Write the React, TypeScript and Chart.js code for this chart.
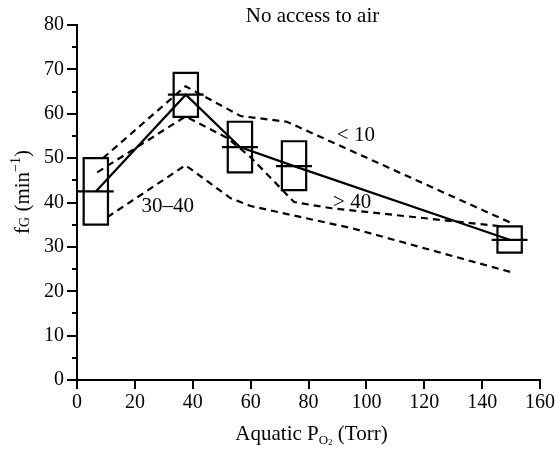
import React, { useEffect, useRef } from 'react';
import { Chart, registerables } from 'chart.js';

Chart.register(...registerables);

const FONT = '"Liberation Serif", "Times New Roman", serif';

// Axis ticks
const xTickValues = [0, 20, 40, 60, 80, 100, 120, 140, 160];
const yTickValues = [0, 10, 20, 30, 40, 50, 60, 70, 80];

// Boxes (aquatic PO2 centre, low, high, median fG)
const boxPO2 = [6.5, 37.6, 56.3, 75, 149.5];
const boxLow = [35, 59.3, 46.8, 42.8, 28.7];
const boxHigh = [50, 69.2, 58.2, 53.8, 34.6];
const boxMid = [42.5, 64.3, 52.5, 48.2, 31.6];
const BOX_HALF = 4.2;
const MID_HALF = 6.2;

// Dashed groups
const lt10PO2 = [9, 37.5, 56.5, 72.5, 150];
const lt10Fg = [50, 66.2, 59.5, 58.2, 35.4];
const gt40PO2 = [7, 37.5, 52, 60, 71, 75, 88, 147];
const gt40Fg = [46.8, 59.4, 54.5, 50.2, 42.8, 40.1, 38.7, 34.6];
const r3040PO2 = [10.5, 37.5, 53, 60, 95, 150];
const r3040Fg = [36.7, 48.4, 41, 39.2, 34.2, 24.3];

const seriesLabels = [
  { text: '< 10', x: 89.8, y: 55, align: 'left' },
  { text: '> 40', x: 88.5, y: 40, align: 'left' },
  { text: '30–40', x: 31.4, y: 39, align: 'center' },
];

const TITLE = 'No access to air';

type Part = { text: string; size: number; dy: number };

function drawParts(ctx: CanvasRenderingContext2D, parts: Part[], cx: number, baseY: number) {
  let total = 0;
  const widths = parts.map((p) => {
    ctx.font = `${p.size}px ${FONT}`;
    const w = ctx.measureText(p.text).width;
    total += w;
    return w;
  });
  let xPos = cx - total / 2;
  ctx.textAlign = 'left';
  ctx.textBaseline = 'alphabetic';
  parts.forEach((p, i) => {
    ctx.font = `${p.size}px ${FONT}`;
    ctx.fillText(p.text, xPos, baseY + p.dy);
    xPos += widths[i];
  });
}

const decorPlugin = {
  id: 'decor',
  afterDraw(chart: any) {
    const { ctx, chartArea } = chart;
    const x = chart.scales.x;
    const y = chart.scales.y;
    ctx.save();
    ctx.fillStyle = '#000';
    ctx.strokeStyle = '#000';
    // y tick marks (major + minor)
    ctx.lineWidth = 2;
    for (let v = 0; v <= 80; v += 5) {
      const py = Math.round(y.getPixelForValue(v));
      const len = v % 10 === 0 ? 10 : 5;
      ctx.beginPath();
      ctx.moveTo(chartArea.left - len, py);
      ctx.lineTo(chartArea.left, py);
      ctx.stroke();
    }
    // title
    ctx.font = `21px ${FONT}`;
    ctx.textAlign = 'center';
    ctx.textBaseline = 'alphabetic';
    ctx.fillText(TITLE, (chartArea.left + chartArea.right) / 2 + 4, 22);
    // series labels
    ctx.font = `21px ${FONT}`;
    ctx.textBaseline = 'middle';
    seriesLabels.forEach((l) => {
      ctx.textAlign = l.align as CanvasTextAlign;
      ctx.fillText(l.text, x.getPixelForValue(l.x), y.getPixelForValue(l.y));
    });
    // x axis title
    drawParts(
      ctx,
      [
        { text: 'Aquatic P', size: 21, dy: 0 },
        { text: 'O', size: 13, dy: 4 },
        { text: '2', size: 9, dy: 5 },
        { text: ' (Torr)', size: 21, dy: 0 },
      ],
      (chartArea.left + chartArea.right) / 2 + 3,
      440
    );
    // y axis title (rotated)
    ctx.translate(29, 192);
    ctx.rotate(-Math.PI / 2);
    drawParts(
      ctx,
      [
        { text: 'f', size: 21, dy: 0 },
        { text: 'G', size: 14, dy: 0 },
        { text: ' (min', size: 21, dy: 0 },
        { text: '−1', size: 14, dy: -9 },
        { text: ')', size: 21, dy: 0 },
      ],
      0,
      0
    );
    ctx.restore();
  },
};

export default function App() {
  const canvasRef = useRef<HTMLCanvasElement | null>(null);

  useEffect(() => {
    const canvas = canvasRef.current;
    if (!canvas) return;
    const base = {
      borderColor: '#000',
      backgroundColor: '#000',
      borderWidth: 2.2,
      showLine: true,
      pointRadius: 0,
      pointHoverRadius: 0,
      fill: false,
      tension: 0,
    };
    const datasets: any[] = [];
    boxPO2.forEach((c, i) => {
      datasets.push({
        ...base,
        borderJoinStyle: 'miter',
        borderCapStyle: 'square',
        data: [
          { x: c - BOX_HALF, y: boxLow[i] },
          { x: c + BOX_HALF, y: boxLow[i] },
          { x: c + BOX_HALF, y: boxHigh[i] },
          { x: c - BOX_HALF, y: boxHigh[i] },
          { x: c - BOX_HALF, y: boxLow[i] },
        ],
      });
      datasets.push({
        ...base,
        data: [
          { x: c - MID_HALF, y: boxMid[i] },
          { x: c + MID_HALF, y: boxMid[i] },
        ],
      });
    });
    datasets.push({ ...base, data: boxPO2.map((v, i) => ({ x: v, y: boxMid[i] })) });
    datasets.push({ ...base, borderDash: [7, 5], data: lt10PO2.map((v, i) => ({ x: v, y: lt10Fg[i] })) });
    datasets.push({ ...base, borderDash: [7, 5], data: gt40PO2.map((v, i) => ({ x: v, y: gt40Fg[i] })) });
    datasets.push({ ...base, borderDash: [7, 5], data: r3040PO2.map((v, i) => ({ x: v, y: r3040Fg[i] })) });

    const chart = new Chart(canvas, {
      type: 'scatter',
      data: { datasets },
      options: {
        animation: false,
        responsive: false,
        devicePixelRatio: 1,
        events: [],
        layout: { padding: { top: 25, right: 15, left: 0, bottom: 0 } },
        plugins: { legend: { display: false }, tooltip: { enabled: false }, title: { display: false } },
        scales: {
          x: {
            type: 'linear',
            min: 0,
            max: 160,
            afterBuildTicks: (s: any) => {
              s.ticks = xTickValues.map((v) => ({ value: v }));
            },
            ticks: {
              color: '#000',
              font: { family: FONT, size: 20 },
              padding: 2,
              maxRotation: 0,
              autoSkip: false,
            },
            grid: { display: true, drawOnChartArea: false, drawTicks: true, tickLength: 9, color: '#000', lineWidth: 2 },
            border: { display: true, color: '#000', width: 2 },
            afterFit: (s: any) => {
              s.height = 70;
              s.paddingLeft = 0;
              s.paddingRight = 0;
            },
          },
          y: {
            type: 'linear',
            min: 0,
            max: 80,
            afterBuildTicks: (s: any) => {
              s.ticks = yTickValues.map((v) => ({ value: v }));
            },
            ticks: {
              color: '#000',
              font: { family: FONT, size: 20 },
              padding: 13,
              autoSkip: false,
            },
            grid: { display: true, drawOnChartArea: false, drawTicks: false, color: '#000' },
            border: { display: true, color: '#000', width: 2 },
            afterFit: (s: any) => {
              s.width = 77;
              s.paddingTop = 0;
              s.paddingBottom = 0;
            },
          },
        },
      },
      plugins: [decorPlugin],
    });
    return () => chart.destroy();
  }, []);

  return (
    <div style={{ position: 'absolute', left: 0, top: 0, width: 555, height: 450, background: '#fff' }}>
      <canvas ref={canvasRef} width={555} height={450} style={{ display: 'block' }} />
    </div>
  );
}
